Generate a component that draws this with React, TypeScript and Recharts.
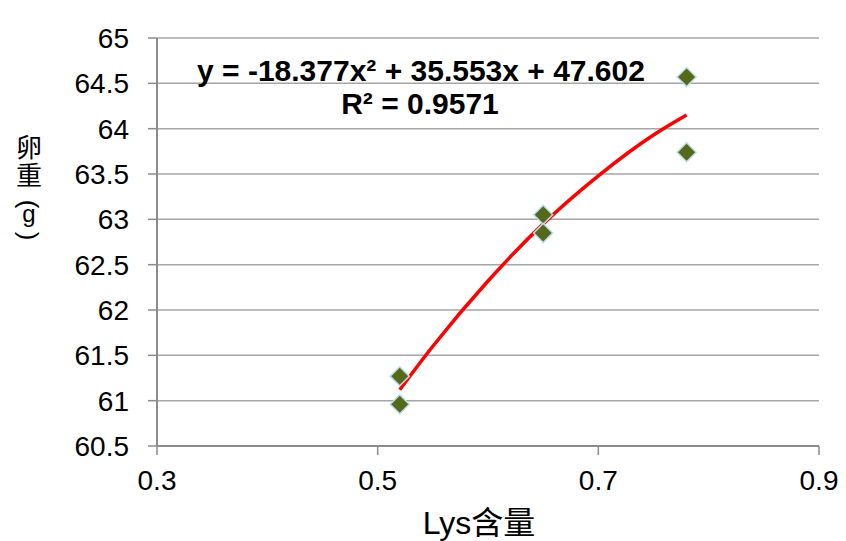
import { ComposedChart, Scatter, Line, XAxis, YAxis, CartesianGrid } from "recharts";

// Lys level vs. egg weight, two replicates per level
const lysLevels = [0.52, 0.52, 0.65, 0.65, 0.78, 0.78];
const eggWeights = [61.27, 60.96, 63.05, 62.85, 64.57, 63.74];

// polynomial trend line
const trendX = [0.52, 0.55, 0.6, 0.65, 0.7, 0.75, 0.78];
const trendY = [61.12, 61.6, 62.32, 62.95, 63.48, 63.93, 64.15];

const xTicks = [0.3, 0.5, 0.7, 0.9];
const yTicks = [60.5, 61, 61.5, 62, 62.5, 63, 63.5, 64, 64.5, 65];

const equation = "y = -18.377x² + 35.553x + 47.602";
const rSquared = "R² = 0.9571";
const xTitle = "Lys含量";
const yTitle = ["卵", "重"];
const yUnit = "g";

const points = lysLevels.map((x, i) => ({ x, y: eggWeights[i] }));
const trend = trendX.map((x, i) => ({ x, y: trendY[i] }));

const font = "'Liberation Sans', Arial, sans-serif";
const cjkFont = "'Liberation Sans', 'Noto Sans CJK SC', sans-serif";

const Diamond = (props: any) => {
  const { cx, cy } = props;
  const r = 9.5;
  return (
    <path
      d={`M${cx},${cy - r} L${cx + r},${cy} L${cx},${cy + r} L${cx - r},${cy} Z`}
      fill="#55691c"
      stroke="#b9dde6"
      strokeWidth={1.5}
    />
  );
};

const XTick = ({ x, y, payload }: any) => (
  <text x={x} y={y} dy="0.71em" textAnchor="middle" fontSize={28} fontFamily={font} fill="#000">
    {payload.value}
  </text>
);

const YTick = ({ x, y, payload }: any) => (
  <text x={x} y={y} dy="0.355em" textAnchor="end" fontSize={28} fontFamily={font} fill="#000">
    {payload.value}
  </text>
);

export default function App() {
  return (
    <div style={{ position: "absolute", left: 0, top: 0, width: 846, height: 541, background: "#fff" }}>
      <ComposedChart width={846} height={541} margin={{ top: 38, right: 27, bottom: 0, left: 0 }}>
        <CartesianGrid vertical={false} stroke="#a6a6a6" strokeWidth={1.5} />
        <XAxis
          type="number"
          dataKey="x"
          domain={[0.3, 0.9]}
          ticks={xTicks}
          height={95}
          tickSize={9}
          tickMargin={15}
          tick={<XTick />}
          axisLine={{ stroke: "#8c8c8c", strokeWidth: 2 }}
          tickLine={{ stroke: "#8c8c8c", strokeWidth: 1.5 }}
          allowDataOverflow
        />
        <YAxis
          type="number"
          domain={[60.5, 65]}
          ticks={yTicks}
          width={157}
          tickSize={9}
          tickMargin={19}
          tick={<YTick />}
          axisLine={{ stroke: "#8c8c8c", strokeWidth: 2 }}
          tickLine={{ stroke: "#8c8c8c", strokeWidth: 1.5 }}
          allowDataOverflow
        />
        <Line
          data={trend}
          dataKey="y"
          type="monotone"
          stroke="#ff0000"
          strokeWidth={3.5}
          dot={false}
          activeDot={false}
          isAnimationActive={false}
        />
        <Scatter data={points} dataKey="y" shape={<Diamond />} isAnimationActive={false} />
      </ComposedChart>
      <svg
        width={846}
        height={541}
        style={{ position: "absolute", left: 0, top: 0, pointerEvents: "none" }}
      >
        <text x={421} y={81} textAnchor="middle" fontSize={30} fontWeight="bold" fontFamily={font} fill="#000">
          {equation}
        </text>
        <text x={420} y={114} textAnchor="middle" fontSize={30} fontWeight="bold" fontFamily={font} fill="#000">
          {rSquared}
        </text>
        <text x={479} y={534} textAnchor="middle" fontSize={32} fontFamily={cjkFont} fill="#000">
          {xTitle}
        </text>
        {yTitle.map((c, i) => (
          <text key={i} x={29} y={[157, 185][i]} textAnchor="middle" fontSize={26} fontFamily={cjkFont} fill="#000">
            {c}
          </text>
        ))}
        {/* vertical-form brackets round the unit */}
        <text x={29} y={204} textAnchor="middle" dominantBaseline="central" fontSize={26} fontFamily={font}
          fill="#000" transform="rotate(90 29 204)">(</text>
        <text x={29} y={222} textAnchor="middle" fontSize={24} fontFamily={font} fill="#000">
          {yUnit}
        </text>
        <text x={29} y={236} textAnchor="middle" dominantBaseline="central" fontSize={26} fontFamily={font}
          fill="#000" transform="rotate(90 29 236)">)</text>
      </svg>
    </div>
  );
}
